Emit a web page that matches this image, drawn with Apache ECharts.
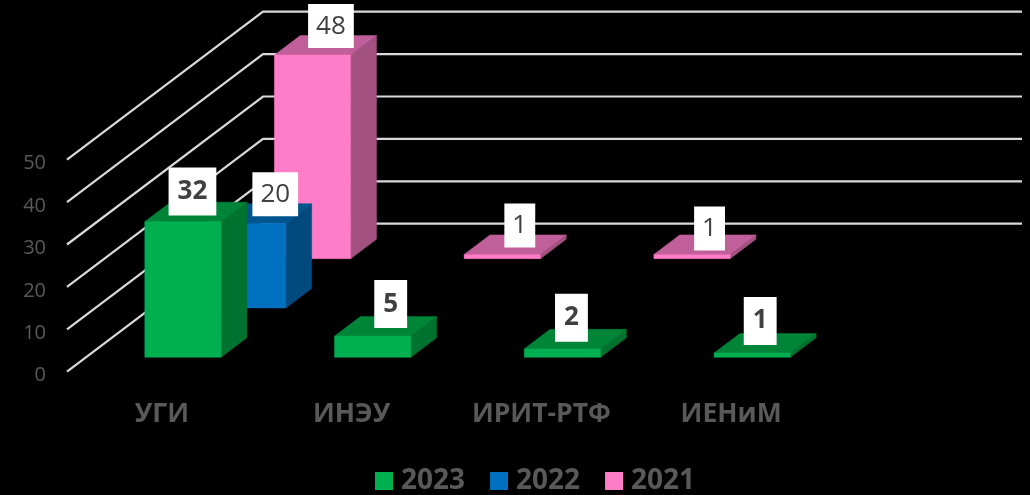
<!DOCTYPE html>
<html>
<head>
<meta charset="utf-8">
<script src="https://cdn.jsdelivr.net/npm/echarts@6/dist/echarts.min.js"></script>
<style>html,body{margin:0;padding:0;background:#000}#c{width:1030px;height:495px}</style>
</head>
<body>
<div id="c"></div>
<script>
const categories = ['УГИ', 'ИНЭУ', 'ИРИТ-РТФ', 'ИЕНиМ'];
const yTicks = [0, 10, 20, 30, 40, 50];
const values2023 = [32, 5, 2, 1];
const values2022 = [20, null, null, null];
const values2021 = [48, 1, 1, null];

// 3D projection of the chart's depth axis, in px
const DEPTH_X = 196, DEPTH_Y = -148, ROWS = 3, ROW_X = 64.8;
const BAR_W = 0.402, BAR_DEPTH = 0.395, BAR_START = 0.292, BAR_NUDGE = 2;
const FONT = '"Open Sans"';

const styles = {
  '2023': {front: '#00B050', side: '#00722F', top: '#008538', row: 0, bold: true,
           shift: [[9.5, -30], [18, -32], [9, -31], [8, -32]]},
  '2022': {front: '#0070C0', side: '#004A7E', top: '#00558F', row: 1, bold: false,
           shift: [[27.5, -29], null, null, null]},
  '2021': {front: '#FF7DC8', side: '#A25180', top: '#C05F99', row: 2, bold: false,
           shift: [[18.4, -29], [17.5, -29], [17.5, -26], null]}
};

function renderWall(params, api) {
  const a = api.coord([0, api.value(0)]);
  const x0 = params.coordSys.x, x1 = x0 + params.coordSys.width, y = a[1];
  return {
    type: 'polyline', silent: true,
    shape: {points: [[x0, y], [x0 + DEPTH_X, y + DEPTH_Y], [x1 + DEPTH_X, y + DEPTH_Y]]},
    style: {stroke: '#D9D9D9', lineWidth: 2.2, fill: null, lineJoin: 'miter'}
  };
}

function barRenderer(name) {
  const s = styles[name];
  return function (params, api) {
    const v = api.value(1);
    if (v == null || isNaN(v)) return null;
    const idx = api.value(0);
    const top = api.coord([idx, v]), base = api.coord([idx, 0]);
    const w = api.size([1, 0])[0] * BAR_W;
    const f = (s.row + BAR_START) / ROWS, d = BAR_DEPTH / ROWS;
    const x0 = base[0] + s.row * ROW_X + BAR_START / ROWS * DEPTH_X - w / 2 + BAR_NUDGE, x1 = x0 + w;
    const yb = base[1] + f * DEPTH_Y, yt = top[1] + f * DEPTH_Y;
    const dx = d * DEPTH_X, dy = d * DEPTH_Y;
    const poly = (pts, fill) => ({type: 'polygon', silent: true, shape: {points: pts},
      style: {fill: fill, stroke: fill, lineWidth: 0.5}});
    const sh = s.shift[idx];
    return {
      type: 'group',
      children: [
        poly([[x1, yb], [x1 + dx, yb + dy], [x1 + dx, yt + dy], [x1, yt]], s.side),
        poly([[x0, yt], [x1, yt], [x1 + dx, yt + dy], [x0 + dx, yt + dy]], s.top),
        poly([[x0, yb], [x1, yb], [x1, yt], [x0, yt]], s.front),
        {
          type: 'text', silent: true,
          x: (x0 + x1) / 2 + sh[0], y: yt + sh[1],
          style: {
            text: String(v), align: 'center', verticalAlign: 'middle',
            font: (s.bold ? 'bold ' : '') + '26px ' + FONT,
            fill: '#404040', backgroundColor: '#fff', lineHeight: 30,
            padding: s.bold ? [10, 9, 8, 9] : [8, 8, 6, 8]
          }
        }
      ]
    };
  };
}

function barSeries(name, values) {
  return {
    type: 'custom', name: name, coordinateSystem: 'cartesian2d', clip: false,
    itemStyle: {color: styles[name].front},
    encode: {x: 0, y: 1},
    data: values.map((v, i) => [i, v]),
    renderItem: barRenderer(name)
  };
}

const chart = echarts.init(document.getElementById('c'));
chart.setOption({
  animation: false,
  backgroundColor: '#000',
  grid: {left: 67, right: 204, top: 159.7, bottom: 123.3, containLabel: false},
  xAxis: {
    type: 'category', data: categories,
    axisLine: {show: false}, axisTick: {show: false}, splitLine: {show: false},
    axisLabel: {color: '#595959', fontFamily: FONT, fontWeight: 'bold', fontSize: 26.5, margin: 29, interval: 0}
  },
  yAxis: {
    type: 'value', min: 0, max: 50, interval: 10,
    axisLine: {show: false}, axisTick: {show: false}, splitLine: {show: false},
    axisLabel: {color: '#595959', fontFamily: FONT, fontSize: 20, margin: 21, verticalAlign: 'top', lineHeight: 8}
  },
  legend: {
    data: ['2023', '2022', '2021'], left: 375, top: 467, padding: 0,
    icon: 'rect', itemWidth: 18, itemHeight: 18, itemGap: 25, selectedMode: false,
    textStyle: {color: '#595959', fontFamily: FONT, fontWeight: 'bold', fontSize: 28, padding: [0, 0, 0, 3]}
  },
  series: [
    {type: 'custom', name: 'walls', coordinateSystem: 'cartesian2d', clip: false, silent: true,
     encode: {y: 0}, data: yTicks.map(t => [t]), renderItem: renderWall},
    barSeries('2021', values2021),
    barSeries('2022', values2022),
    barSeries('2023', values2023)
  ]
});
</script>
</body>
</html>
